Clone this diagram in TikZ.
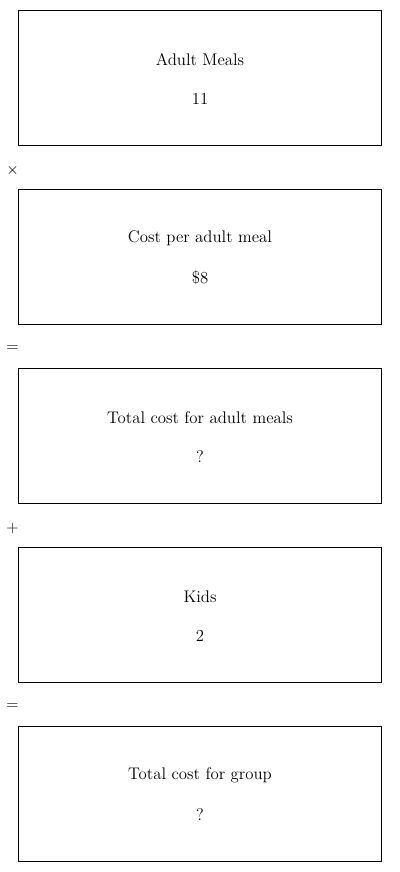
\documentclass[tikz,border=0pt]{standalone}
\begin{document}
\begin{tikzpicture}[x=0.75pt,y=-0.75pt,
  boxst/.style={draw=black,line width=0.75pt,minimum width=363*0.75pt,minimum height=135*0.75pt,inner sep=0pt,anchor=north west},
  lbl/.style={font=\fontsize{12.6}{14}\selectfont,anchor=center},
  op/.style={font=\fontsize{11.5}{13}\selectfont,anchor=center}]
\useasboundingbox (0,0) rectangle (400,872);
\foreach \i/\y/\t/\v in {a/10/Adult Meals/11, b/189/Cost per adult meal/\$8, c/368/Total cost for adult meals/?, d/547/Kids/2, e/726/Total cost for group/?}{
  \node[boxst] (box\i) at (18,\y) {};
  \node[lbl] (t\i) at (200,\y+49.5) {\t};
  \node[lbl] (v\i) at (200,\y+88.5) {\v};
}
\node[op] (o1) at (12.5,170) {$\times$};
\node[op] (o2) at (12.5,349) {$=$};
\node[op] (o3) at (12.5,528) {$+$};
\node[op] (o4) at (12.5,707) {$=$};
\end{tikzpicture}
\end{document}
